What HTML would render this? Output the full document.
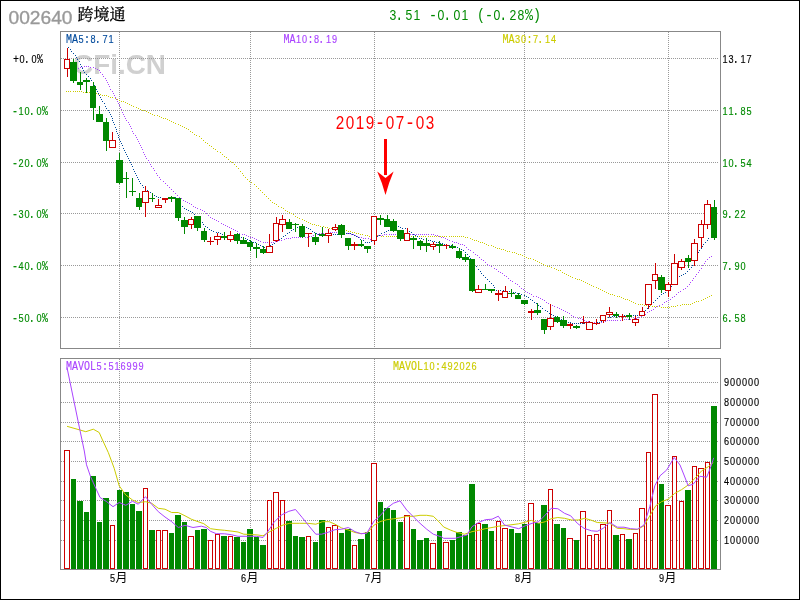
<!DOCTYPE html>
<html lang="zh-CN">
<head>
<meta charset="utf-8">
<title>002640 跨境通</title>
<style>
html,body{margin:0;padding:0;background:#fff;}
body{width:800px;height:600px;overflow:hidden;}
svg{display:block;}
</style>
</head>
<body>
<svg width="800" height="600" viewBox="0 0 800 600">
<rect x="0" y="0" width="800" height="600" fill="#ffffff"/>
<text x="73" y="74" font-family="'Liberation Sans', Arial, sans-serif" font-weight="bold" font-size="27px" fill="#d0d0d0" textLength="93" lengthAdjust="spacingAndGlyphs">CFi.CN</text>
<g shape-rendering="crispEdges" stroke="#999999" stroke-width="1" stroke-dasharray="1 1" fill="none">
<line x1="61" y1="58.5" x2="719" y2="58.5"/>
<line x1="61" y1="110.5" x2="719" y2="110.5"/>
<line x1="61" y1="162.5" x2="719" y2="162.5"/>
<line x1="61" y1="213.5" x2="719" y2="213.5"/>
<line x1="61" y1="265.5" x2="719" y2="265.5"/>
<line x1="61" y1="317.5" x2="719" y2="317.5"/>
<line x1="119.5" y1="32" x2="119.5" y2="348"/>
<line x1="119.5" y1="359" x2="119.5" y2="569"/>
<line x1="250.5" y1="32" x2="250.5" y2="348"/>
<line x1="250.5" y1="359" x2="250.5" y2="569"/>
<line x1="374.5" y1="32" x2="374.5" y2="348"/>
<line x1="374.5" y1="359" x2="374.5" y2="569"/>
<line x1="524.5" y1="32" x2="524.5" y2="348"/>
<line x1="524.5" y1="359" x2="524.5" y2="569"/>
<line x1="668.5" y1="32" x2="668.5" y2="348"/>
<line x1="668.5" y1="359" x2="668.5" y2="569"/>
<line x1="61" y1="382.5" x2="719" y2="382.5"/>
<line x1="61" y1="402.5" x2="719" y2="402.5"/>
<line x1="61" y1="422.5" x2="719" y2="422.5"/>
<line x1="61" y1="441.5" x2="719" y2="441.5"/>
<line x1="61" y1="461.5" x2="719" y2="461.5"/>
<line x1="61" y1="481.5" x2="719" y2="481.5"/>
<line x1="61" y1="500.5" x2="719" y2="500.5"/>
<line x1="61" y1="520.5" x2="719" y2="520.5"/>
<line x1="61" y1="540.5" x2="719" y2="540.5"/>
</g>
<g shape-rendering="crispEdges" fill="none" stroke="#888888" stroke-width="1">
<rect x="60.5" y="31.5" width="660" height="317"/>
<rect x="60.5" y="358.5" width="660" height="211"/>
</g>
<path d="M66 91.5h1M68 91.5h1M70 91.5h1M73 91.5h1M75 91.5h1M77 91.5h1M79 91.5h1M81 91.5h1M83 92.5h1M85 92.5h1M87 92.5h1M89 92.5h1M91 93.5h1M94 93.5h1M96 93.5h1M98 94.5h1M100 94.5h1M102 95.5h1M104 95.5h1M106 95.5h1M108 96.5h1M110 97.5h1M112 97.5h1M115 98.5h1M117 99.5h1M119 100.5h1M121 101.5h1M123 101.5h1M125 102.5h1M127 103.5h1M129 104.5h1M131 105.5h1M133 106.5h1M136 107.5h1M138 108.5h1M140 109.5h1M142 110.5h1M144 110.5h1M146 111.5h1M148 112.5h1M150 113.5h1M152 114.5h1M154 115.5h1M157 115.5h1M159 116.5h1M161 117.5h1M163 118.5h1M165 118.5h1M167 119.5h1M169 120.5h1M171 121.5h1M173 122.5h1M175 123.5h1M178 124.5h1M180 125.5h1M182 126.5h1M184 127.5h1M186 128.5h1M188 129.5h1M190 131.5h1M192 132.5h1M194 134.5h1M196 135.5h1M199 136.5h1M201 138.5h1M203 140.5h1M205 142.5h1M207 143.5h1M209 145.5h1M211 146.5h1M213 148.5h1M215 149.5h1M217 151.5h1M220 152.5h1M222 154.5h1M224 156.5h1M226 157.5h1M228 159.5h1M230 161.5h1M232 162.5h1M234 164.5h1M236 166.5h1M238 168.5h1M240 171.5h1M242 173.5h1M243 175.5h1M245 177.5h1M247 179.5h1M249 181.5h1M251 182.5h1M254 184.5h1M256 186.5h1M258 188.5h1M260 190.5h1M262 192.5h1M264 194.5h1M266 196.5h1M268 198.5h1M270 200.5h1M272 202.5h1M274 203.5h1M276 204.5h1M278 206.5h1M281 207.5h1M283 208.5h1M285 210.5h1M287 211.5h1M289 212.5h1M291 213.5h1M293 214.5h1M295 216.5h1M297 217.5h1M299 218.5h1M302 219.5h1M304 220.5h1M306 221.5h1M308 222.5h1M310 223.5h1M312 224.5h1M314 224.5h1M316 225.5h1M318 225.5h1M320 226.5h1M323 226.5h1M325 227.5h1M327 227.5h1M329 228.5h1M331 228.5h1M333 229.5h1M335 229.5h1M337 229.5h1M339 230.5h1M341 230.5h1M344 230.5h1M346 230.5h1M348 231.5h1M350 231.5h1M352 232.5h1M354 232.5h1M356 233.5h1M358 233.5h1M360 234.5h1M362 234.5h1M365 235.5h1M367 235.5h1M369 236.5h1M371 236.5h1M373 236.5h1M375 236.5h1M377 235.5h1M379 235.5h1M381 236.5h1M383 236.5h1M386 236.5h1M388 236.5h1M390 236.5h1M392 236.5h1M394 236.5h1M396 236.5h1M398 236.5h1M400 236.5h1M402 236.5h1M404 236.5h1M407 236.5h1M409 236.5h1M411 236.5h1M413 236.5h1M415 236.5h1M417 236.5h1M419 236.5h1M421 236.5h1M423 236.5h1M425 236.5h1M428 236.5h1M430 236.5h1M432 236.5h1M434 236.5h1M436 236.5h1M438 236.5h1M440 236.5h1M442 236.5h1M444 236.5h1M446 236.5h1M449 236.5h1M451 236.5h1M453 236.5h1M455 236.5h1M457 236.5h1M459 236.5h1M461 236.5h1M463 236.5h1M465 237.5h1M467 237.5h1M470 238.5h1M472 239.5h1M474 240.5h1M476 240.5h1M478 241.5h1M480 242.5h1M482 242.5h1M484 243.5h1M486 244.5h1M488 245.5h1M491 245.5h1M493 246.5h1M495 247.5h1M497 248.5h1M499 248.5h1M501 249.5h1M503 249.5h1M505 250.5h1M507 251.5h1M509 251.5h1M512 252.5h1M514 252.5h1M516 253.5h1M518 254.5h1M520 254.5h1M522 255.5h1M524 256.5h1M526 257.5h1M528 258.5h1M530 258.5h1M533 259.5h1M535 260.5h1M537 261.5h1M539 262.5h1M541 263.5h1M543 264.5h1M545 265.5h1M547 266.5h1M549 266.5h1M551 267.5h1M554 268.5h1M556 269.5h1M558 270.5h1M560 270.5h1M562 272.5h1M564 273.5h1M566 274.5h1M568 275.5h1M570 276.5h1M572 277.5h1M575 278.5h1M577 279.5h1M579 279.5h1M581 280.5h1M583 281.5h1M585 282.5h1M587 283.5h1M589 284.5h1M591 285.5h1M593 286.5h1M596 287.5h1M598 288.5h1M600 289.5h1M602 290.5h1M604 291.5h1M606 292.5h1M608 293.5h1M610 294.5h1M612 294.5h1M614 295.5h1M617 296.5h1M619 296.5h1M621 297.5h1M623 298.5h1M625 299.5h1M627 299.5h1M629 300.5h1M631 301.5h1M633 302.5h1M635 303.5h1M638 304.5h1M640 304.5h1M642 304.5h1M644 305.5h1M646 305.5h1M648 305.5h1M650 305.5h1M652 306.5h1M654 306.5h1M656 306.5h1M659 306.5h1M661 307.5h1M663 307.5h1M665 307.5h1M667 307.5h1M669 307.5h1M671 306.5h1M673 306.5h1M675 306.5h1M677 305.5h1M680 305.5h1M682 304.5h1M684 304.5h1M686 304.5h1M688 304.5h1M690 304.5h1M692 303.5h1M694 302.5h1M696 301.5h1M698 301.5h1M701 300.5h1M703 299.5h1M705 298.5h1M707 297.5h1M709 296.5h1M711 295.5h1" fill="none" stroke="#cccc00" stroke-width="1" shape-rendering="crispEdges"/>
<path d="M78 68.5h1M80 67.5h1M82 67.5h1M84 66.5h1M86 66.5h1M88 66.5h1M90 67.5h1M93 67.5h1M95 68.5h1M97 69.5h1M99 70.5h1M100 72.5h1M102 74.5h1M103 76.5h1M105 78.5h1M106 80.5h1M107 82.5h1M108 84.5h1M109 86.5h1M110 89.5h1M112 91.5h1M113 93.5h1M114 95.5h1M115 97.5h1M116 99.5h1M117 101.5h1M118 103.5h1M119 105.5h1M120 107.5h1M121 109.5h1M122 112.5h1M123 114.5h1M124 116.5h1M125 118.5h1M126 120.5h1M128 122.5h1M129 124.5h1M130 126.5h1M131 128.5h1M132 131.5h1M133 133.5h1M135 135.5h1M136 137.5h1M137 139.5h1M138 141.5h1M139 143.5h1M140 145.5h1M141 147.5h1M142 149.5h1M143 152.5h1M144 154.5h1M145 156.5h1M146 158.5h1M148 160.5h1M149 162.5h1M150 164.5h1M151 166.5h1M153 168.5h1M154 170.5h1M156 173.5h1M157 175.5h1M159 177.5h1M160 179.5h1M163 181.5h1M165 183.5h1M167 185.5h1M169 187.5h1M171 189.5h1M173 191.5h1M175 193.5h1M177 195.5h1M179 197.5h1M181 198.5h1M183 200.5h1M185 201.5h1M187 202.5h1M189 203.5h1M191 204.5h1M193 206.5h1M195 207.5h1M197 208.5h1M200 209.5h1M202 210.5h1M204 211.5h1M206 213.5h1M208 215.5h1M210 217.5h1M212 218.5h1M214 219.5h1M216 220.5h1M218 221.5h1M221 223.5h1M223 224.5h1M225 225.5h1M227 226.5h1M229 227.5h1M231 228.5h1M233 229.5h1M235 230.5h1M237 231.5h1M239 233.5h1M242 234.5h1M244 234.5h1M246 235.5h1M248 236.5h1M250 237.5h1M252 237.5h1M254 238.5h1M256 239.5h1M258 240.5h1M260 241.5h1M263 242.5h1M265 242.5h1M267 242.5h1M269 242.5h1M271 242.5h1M273 242.5h1M275 241.5h1M277 241.5h1M279 240.5h1M281 240.5h1M284 239.5h1M286 238.5h1M288 238.5h1M290 238.5h1M292 237.5h1M294 237.5h1M296 237.5h1M298 237.5h1M300 237.5h1M302 237.5h1M305 237.5h1M307 237.5h1M309 236.5h1M311 236.5h1M313 235.5h1M315 234.5h1M317 234.5h1M319 233.5h1M321 233.5h1M323 233.5h1M326 233.5h1M328 233.5h1M330 232.5h1M332 232.5h1M334 232.5h1M336 232.5h1M338 232.5h1M340 232.5h1M342 232.5h1M344 233.5h1M347 233.5h1M349 233.5h1M351 234.5h1M353 234.5h1M355 235.5h1M357 236.5h1M359 237.5h1M361 237.5h1M363 238.5h1M365 238.5h1M368 238.5h1M370 239.5h1M372 238.5h1M374 237.5h1M376 236.5h1M378 235.5h1M380 235.5h1M382 235.5h1M384 234.5h1M386 234.5h1M389 234.5h1M391 234.5h1M393 234.5h1M395 234.5h1M397 234.5h1M399 234.5h1M401 234.5h1M403 234.5h1M405 234.5h1M407 234.5h1M410 234.5h1M412 234.5h1M414 234.5h1M416 234.5h1M418 234.5h1M420 234.5h1M422 234.5h1M424 234.5h1M426 234.5h1M428 234.5h1M431 234.5h1M433 234.5h1M435 235.5h1M437 235.5h1M439 236.5h1M441 237.5h1M443 237.5h1M445 238.5h1M447 239.5h1M449 240.5h1M452 241.5h1M454 242.5h1M456 242.5h1M458 243.5h1M460 244.5h1M462 244.5h1M464 245.5h1M466 247.5h1M468 249.5h1M470 250.5h1M473 252.5h1M475 254.5h1M477 255.5h1M479 257.5h1M481 259.5h1M483 260.5h1M485 262.5h1M487 264.5h1M489 265.5h1M491 266.5h1M494 268.5h1M496 269.5h1M498 271.5h1M500 272.5h1M502 273.5h1M504 275.5h1M506 276.5h1M508 278.5h1M510 280.5h1M512 281.5h1M515 283.5h1M517 284.5h1M519 286.5h1M521 288.5h1M523 289.5h1M525 291.5h1M527 292.5h1M529 293.5h1M531 294.5h1M533 296.5h1M536 296.5h1M538 297.5h1M540 298.5h1M542 299.5h1M544 300.5h1M546 302.5h1M548 303.5h1M550 304.5h1M552 305.5h1M554 306.5h1M557 307.5h1M559 308.5h1M561 309.5h1M563 310.5h1M565 311.5h1M567 312.5h1M569 313.5h1M571 315.5h1M573 316.5h1M575 317.5h1M578 318.5h1M580 318.5h1M582 319.5h1M584 320.5h1M586 321.5h1M588 321.5h1M590 322.5h1M592 322.5h1M594 322.5h1M596 322.5h1M599 322.5h1M601 322.5h1M603 321.5h1M605 321.5h1M607 320.5h1M609 320.5h1M611 320.5h1M613 320.5h1M615 320.5h1M617 320.5h1M620 320.5h1M622 320.5h1M624 319.5h1M626 319.5h1M628 319.5h1M630 319.5h1M632 319.5h1M634 318.5h1M636 318.5h1M638 317.5h1M641 316.5h1M643 315.5h1M645 314.5h1M647 312.5h1M649 311.5h1M651 310.5h1M653 309.5h1M655 307.5h1M657 306.5h1M659 305.5h1M662 304.5h1M664 302.5h1M666 301.5h1M668 300.5h1M670 299.5h1M672 297.5h1M674 296.5h1M676 294.5h1M678 292.5h1M680 291.5h1M683 289.5h1M685 288.5h1M687 286.5h1M689 284.5h1M690 282.5h1M692 280.5h1M693 278.5h1M695 276.5h1M696 274.5h1M698 272.5h1M699 270.5h1M701 268.5h1M702 265.5h1M704 263.5h1M705 261.5h1M707 259.5h1M709 257.5h1M711 256.5h1" fill="none" stroke="#aa44ff" stroke-width="1" shape-rendering="crispEdges"/>
<path d="M68 47.5h1M70 49.5h1M71 51.5h1M73 53.5h1M75 55.5h1M76 57.5h1M77 59.5h1M79 61.5h1M80 64.5h1M81 66.5h1M82 68.5h1M83 70.5h1M84 72.5h1M86 74.5h1M88 76.5h1M90 78.5h1M91 80.5h1M93 82.5h1M94 85.5h1M95 87.5h1M96 89.5h1M97 91.5h1M98 93.5h1M99 95.5h1M100 97.5h1M101 99.5h1M102 101.5h1M104 103.5h1M105 106.5h1M106 108.5h1M108 110.5h1M109 112.5h1M110 114.5h1M111 116.5h1M112 118.5h1M112 120.5h1M113 122.5h1M114 124.5h1M115 127.5h1M116 129.5h1M116 131.5h1M117 133.5h1M118 135.5h1M118 137.5h1M119 139.5h1M120 141.5h1M121 143.5h1M122 145.5h1M123 148.5h1M124 150.5h1M125 152.5h1M126 154.5h1M127 156.5h1M128 158.5h1M129 160.5h1M130 162.5h1M131 164.5h1M132 166.5h1M133 169.5h1M134 171.5h1M135 173.5h1M136 175.5h1M137 177.5h1M138 179.5h1M139 181.5h1M140 183.5h1M142 185.5h1M143 187.5h1M145 189.5h1M147 190.5h1M150 192.5h1M152 193.5h1M154 195.5h1M156 196.5h1M158 197.5h1M160 197.5h1M162 198.5h1M164 198.5h1M166 198.5h1M168 198.5h1M171 198.5h1M173 197.5h1M175 197.5h1M176 199.5h1M178 201.5h1M180 204.5h1M182 206.5h1M184 208.5h1M186 209.5h1M188 210.5h1M190 211.5h1M192 212.5h1M194 214.5h1M196 216.5h1M198 217.5h1M200 220.5h1M202 222.5h1M203 224.5h1M205 226.5h1M207 227.5h1M209 229.5h1M211 230.5h1M213 231.5h1M216 232.5h1M218 232.5h1M220 233.5h1M222 234.5h1M224 235.5h1M226 236.5h1M228 236.5h1M230 236.5h1M232 236.5h1M234 236.5h1M237 237.5h1M239 237.5h1M241 237.5h1M243 237.5h1M245 238.5h1M247 239.5h1M249 240.5h1M251 241.5h1M253 242.5h1M255 242.5h1M258 244.5h1M260 245.5h1M262 246.5h1M264 247.5h1M266 247.5h1M268 246.5h1M270 245.5h1M272 244.5h1M274 243.5h1M276 241.5h1M279 239.5h1M281 238.5h1M283 236.5h1M285 235.5h1M287 233.5h1M289 232.5h1M291 230.5h1M293 229.5h1M295 228.5h1M297 227.5h1M300 227.5h1M302 226.5h1M304 226.5h1M306 227.5h1M308 228.5h1M310 229.5h1M312 231.5h1M314 232.5h1M316 233.5h1M318 234.5h1M321 234.5h1M323 234.5h1M325 234.5h1M327 234.5h1M329 234.5h1M331 234.5h1M333 234.5h1M335 234.5h1M337 234.5h1M339 234.5h1M342 233.5h1M344 233.5h1M346 233.5h1M348 233.5h1M350 233.5h1M352 234.5h1M354 235.5h1M356 236.5h1M358 237.5h1M360 239.5h1M363 240.5h1M365 242.5h1M367 242.5h1M369 242.5h1M371 241.5h1M373 240.5h1M375 238.5h1M377 236.5h1M379 235.5h1M381 233.5h1M384 232.5h1M386 231.5h1M388 230.5h1M390 229.5h1M392 228.5h1M394 228.5h1M396 227.5h1M398 226.5h1M400 227.5h1M402 228.5h1M405 228.5h1M407 230.5h1M409 231.5h1M411 232.5h1M413 234.5h1M415 235.5h1M417 236.5h1M419 238.5h1M421 238.5h1M423 239.5h1M426 239.5h1M428 240.5h1M430 240.5h1M432 241.5h1M434 241.5h1M436 242.5h1M438 242.5h1M440 243.5h1M442 243.5h1M444 244.5h1M447 245.5h1M449 245.5h1M451 245.5h1M453 246.5h1M455 246.5h1M457 247.5h1M459 248.5h1M461 249.5h1M463 250.5h1M465 252.5h1M467 254.5h1M469 256.5h1M470 258.5h1M472 260.5h1M473 262.5h1M474 264.5h1M476 266.5h1M478 269.5h1M480 271.5h1M481 273.5h1M483 275.5h1M485 277.5h1M487 279.5h1M489 281.5h1M491 283.5h1M493 285.5h1M494 287.5h1M496 290.5h1M498 290.5h1M500 290.5h1M503 290.5h1M505 291.5h1M507 291.5h1M509 291.5h1M511 292.5h1M513 292.5h1M515 292.5h1M517 293.5h1M519 293.5h1M521 294.5h1M524 295.5h1M526 296.5h1M528 297.5h1M530 299.5h1M532 300.5h1M534 302.5h1M536 303.5h1M538 305.5h1M540 306.5h1M542 308.5h1M545 310.5h1M547 311.5h1M549 313.5h1M551 314.5h1M553 315.5h1M555 316.5h1M557 317.5h1M559 318.5h1M561 319.5h1M563 320.5h1M566 321.5h1M568 322.5h1M570 322.5h1M572 323.5h1M574 323.5h1M576 323.5h1M578 323.5h1M580 323.5h1M582 323.5h1M584 323.5h1M587 323.5h1M589 323.5h1M591 323.5h1M593 323.5h1M595 323.5h1M597 322.5h1M599 322.5h1M601 321.5h1M603 319.5h1M605 318.5h1M608 317.5h1M610 317.5h1M612 316.5h1M614 316.5h1M616 316.5h1M618 316.5h1M620 316.5h1M622 315.5h1M624 315.5h1M626 315.5h1M629 315.5h1M631 315.5h1M633 315.5h1M635 315.5h1M637 315.5h1M639 314.5h1M641 313.5h1M643 312.5h1M645 310.5h1M647 308.5h1M649 306.5h1M651 304.5h1M653 302.5h1M655 300.5h1M657 298.5h1M659 296.5h1M661 294.5h1M663 293.5h1M665 292.5h1M667 290.5h1M669 288.5h1M671 286.5h1M672 284.5h1M674 282.5h1M675 279.5h1M677 277.5h1M679 276.5h1M681 275.5h1M683 274.5h1M685 273.5h1M687 271.5h1M689 269.5h1M691 267.5h1M692 265.5h1M694 263.5h1M694 261.5h1M695 259.5h1M696 257.5h1M697 254.5h1M698 252.5h1M699 250.5h1M701 248.5h1M702 246.5h1M703 244.5h1M705 242.5h1M707 240.5h1M708 238.5h1" fill="none" stroke="#004a9c" stroke-width="1" shape-rendering="crispEdges"/>
<g shape-rendering="crispEdges">
<rect x="67" y="48" width="1" height="11" fill="#cc0000"/>
<rect x="67" y="69" width="1" height="8" fill="#cc0000"/>
<rect x="64.5" y="59.5" width="5" height="9" fill="#ffffff" stroke="#cc0000" stroke-width="1"/>
<rect x="73" y="59" width="1" height="24" fill="#008800"/>
<rect x="70" y="62" width="7" height="19" fill="#008800"/>
<rect x="80" y="72" width="1" height="18" fill="#008800"/>
<rect x="77" y="82" width="6" height="3" fill="#008800"/>
<rect x="86" y="78" width="1" height="15" fill="#008800"/>
<rect x="83" y="80" width="7" height="2" fill="#008800"/>
<rect x="93" y="82" width="1" height="38" fill="#008800"/>
<rect x="90" y="86" width="6" height="22" fill="#008800"/>
<rect x="99" y="106" width="1" height="16" fill="#008800"/>
<rect x="96" y="114" width="7" height="8" fill="#008800"/>
<rect x="106" y="118" width="1" height="33" fill="#008800"/>
<rect x="103" y="122" width="6" height="19" fill="#008800"/>
<rect x="112" y="132" width="1" height="8" fill="#cc0000"/>
<rect x="109.5" y="140.5" width="6" height="7" fill="#ffffff" stroke="#cc0000" stroke-width="1"/>
<rect x="119" y="153" width="1" height="31" fill="#008800"/>
<rect x="116" y="160" width="7" height="23" fill="#008800"/>
<rect x="126" y="172" width="1" height="26" fill="#008800"/>
<rect x="123" y="178" width="6" height="1" fill="#008800"/>
<rect x="132" y="178" width="1" height="18" fill="#008800"/>
<rect x="129" y="191" width="7" height="1" fill="#008800"/>
<rect x="139" y="193" width="1" height="17" fill="#008800"/>
<rect x="136" y="198" width="6" height="9" fill="#008800"/>
<rect x="145" y="186" width="1" height="5" fill="#cc0000"/>
<rect x="145" y="203" width="1" height="14" fill="#cc0000"/>
<rect x="142.5" y="191.5" width="6" height="11" fill="#ffffff" stroke="#cc0000" stroke-width="1"/>
<rect x="152" y="193" width="1" height="9" fill="#008800"/>
<rect x="149" y="198" width="6" height="1" fill="#008800"/>
<rect x="158" y="199" width="1" height="6" fill="#cc0000"/>
<rect x="155.5" y="205.5" width="6" height="2" fill="#ffffff" stroke="#cc0000" stroke-width="1"/>
<rect x="165" y="200" width="1" height="3" fill="#cc0000"/>
<rect x="162" y="198" width="6" height="2" fill="#cc0000"/>
<rect x="171" y="196" width="1" height="6" fill="#008800"/>
<rect x="168" y="197" width="7" height="2" fill="#008800"/>
<rect x="178" y="198" width="1" height="23" fill="#008800"/>
<rect x="175" y="198" width="6" height="20" fill="#008800"/>
<rect x="184" y="217" width="1" height="17" fill="#008800"/>
<rect x="181" y="220" width="7" height="7" fill="#008800"/>
<rect x="191" y="217" width="1" height="2" fill="#cc0000"/>
<rect x="191" y="225" width="1" height="4" fill="#cc0000"/>
<rect x="188.5" y="219.5" width="5" height="5" fill="#ffffff" stroke="#cc0000" stroke-width="1"/>
<rect x="197" y="216" width="1" height="15" fill="#008800"/>
<rect x="194" y="216" width="7" height="12" fill="#008800"/>
<rect x="204" y="228" width="1" height="14" fill="#008800"/>
<rect x="201" y="231" width="6" height="9" fill="#008800"/>
<rect x="210" y="237" width="1" height="4" fill="#cc0000"/>
<rect x="210" y="242" width="1" height="3" fill="#cc0000"/>
<rect x="207" y="241" width="7" height="1" fill="#cc0000"/>
<rect x="217" y="233" width="1" height="3" fill="#cc0000"/>
<rect x="217" y="240" width="1" height="5" fill="#cc0000"/>
<rect x="214.5" y="236.5" width="6" height="3" fill="#ffffff" stroke="#cc0000" stroke-width="1"/>
<rect x="224" y="232" width="1" height="8" fill="#008800"/>
<rect x="221" y="236" width="6" height="2" fill="#008800"/>
<rect x="230" y="231" width="1" height="4" fill="#cc0000"/>
<rect x="230" y="240" width="1" height="2" fill="#cc0000"/>
<rect x="227.5" y="235.5" width="6" height="4" fill="#ffffff" stroke="#cc0000" stroke-width="1"/>
<rect x="237" y="233" width="1" height="11" fill="#008800"/>
<rect x="234" y="234" width="6" height="7" fill="#008800"/>
<rect x="243" y="237" width="1" height="7" fill="#008800"/>
<rect x="240" y="240" width="7" height="4" fill="#008800"/>
<rect x="250" y="240" width="1" height="11" fill="#008800"/>
<rect x="247" y="242" width="6" height="5" fill="#008800"/>
<rect x="256" y="243" width="1" height="15" fill="#008800"/>
<rect x="253" y="247" width="7" height="2" fill="#008800"/>
<rect x="263" y="246" width="1" height="8" fill="#008800"/>
<rect x="260" y="249" width="6" height="4" fill="#008800"/>
<rect x="269" y="234" width="1" height="12" fill="#cc0000"/>
<rect x="266.5" y="246.5" width="6" height="6" fill="#ffffff" stroke="#cc0000" stroke-width="1"/>
<rect x="276" y="217" width="1" height="6" fill="#cc0000"/>
<rect x="276" y="241" width="1" height="1" fill="#cc0000"/>
<rect x="273.5" y="223.5" width="5" height="17" fill="#ffffff" stroke="#cc0000" stroke-width="1"/>
<rect x="282" y="215" width="1" height="4" fill="#cc0000"/>
<rect x="282" y="225" width="1" height="7" fill="#cc0000"/>
<rect x="279.5" y="219.5" width="6" height="5" fill="#ffffff" stroke="#cc0000" stroke-width="1"/>
<rect x="289" y="219" width="1" height="10" fill="#008800"/>
<rect x="286" y="222" width="6" height="7" fill="#008800"/>
<rect x="295" y="223" width="1" height="9" fill="#008800"/>
<rect x="292" y="224" width="7" height="1" fill="#008800"/>
<rect x="302" y="224" width="1" height="14" fill="#008800"/>
<rect x="299" y="226" width="6" height="11" fill="#008800"/>
<rect x="308" y="234" width="1" height="13" fill="#cc0000"/>
<rect x="305" y="233" width="7" height="1" fill="#cc0000"/>
<rect x="315" y="233" width="1" height="12" fill="#008800"/>
<rect x="312" y="237" width="7" height="5" fill="#008800"/>
<rect x="322" y="227" width="1" height="10" fill="#008800"/>
<rect x="319" y="234" width="6" height="2" fill="#008800"/>
<rect x="328" y="229" width="1" height="4" fill="#cc0000"/>
<rect x="328" y="236" width="1" height="7" fill="#cc0000"/>
<rect x="325.5" y="233.5" width="6" height="2" fill="#ffffff" stroke="#cc0000" stroke-width="1"/>
<rect x="335" y="224" width="1" height="3" fill="#cc0000"/>
<rect x="335" y="230" width="1" height="1" fill="#cc0000"/>
<rect x="332.5" y="227.5" width="5" height="2" fill="#ffffff" stroke="#cc0000" stroke-width="1"/>
<rect x="341" y="224" width="1" height="14" fill="#008800"/>
<rect x="338" y="225" width="7" height="10" fill="#008800"/>
<rect x="348" y="238" width="1" height="12" fill="#008800"/>
<rect x="345" y="238" width="6" height="8" fill="#008800"/>
<rect x="354" y="242" width="1" height="2" fill="#cc0000"/>
<rect x="354" y="246" width="1" height="4" fill="#cc0000"/>
<rect x="351" y="244" width="7" height="2" fill="#cc0000"/>
<rect x="361" y="240" width="1" height="7" fill="#008800"/>
<rect x="358" y="244" width="6" height="2" fill="#008800"/>
<rect x="367" y="246" width="1" height="7" fill="#008800"/>
<rect x="364" y="246" width="7" height="3" fill="#008800"/>
<rect x="374" y="241" width="1" height="4" fill="#cc0000"/>
<rect x="371.5" y="216.5" width="5" height="24" fill="#ffffff" stroke="#cc0000" stroke-width="1"/>
<rect x="380" y="215" width="1" height="10" fill="#008800"/>
<rect x="377" y="218" width="7" height="2" fill="#008800"/>
<rect x="387" y="215" width="1" height="12" fill="#008800"/>
<rect x="384" y="219" width="6" height="8" fill="#008800"/>
<rect x="393" y="219" width="1" height="13" fill="#008800"/>
<rect x="390" y="221" width="7" height="10" fill="#008800"/>
<rect x="400" y="230" width="1" height="11" fill="#008800"/>
<rect x="397" y="230" width="7" height="9" fill="#008800"/>
<rect x="407" y="228" width="1" height="5" fill="#cc0000"/>
<rect x="404.5" y="233.5" width="5" height="7" fill="#ffffff" stroke="#cc0000" stroke-width="1"/>
<rect x="413" y="236" width="1" height="13" fill="#008800"/>
<rect x="410" y="238" width="7" height="2" fill="#008800"/>
<rect x="420" y="240" width="1" height="10" fill="#008800"/>
<rect x="417" y="241" width="6" height="5" fill="#008800"/>
<rect x="426" y="238" width="1" height="14" fill="#008800"/>
<rect x="423" y="243" width="7" height="3" fill="#008800"/>
<rect x="433" y="242" width="1" height="2" fill="#cc0000"/>
<rect x="433" y="247" width="1" height="3" fill="#cc0000"/>
<rect x="430.5" y="244.5" width="5" height="2" fill="#ffffff" stroke="#cc0000" stroke-width="1"/>
<rect x="439" y="241" width="1" height="12" fill="#008800"/>
<rect x="436" y="244" width="7" height="2" fill="#008800"/>
<rect x="446" y="244" width="1" height="1" fill="#cc0000"/>
<rect x="446" y="246" width="1" height="3" fill="#cc0000"/>
<rect x="443" y="245" width="6" height="1" fill="#cc0000"/>
<rect x="452" y="244" width="1" height="5" fill="#008800"/>
<rect x="449" y="246" width="7" height="2" fill="#008800"/>
<rect x="459" y="248" width="1" height="11" fill="#008800"/>
<rect x="456" y="251" width="6" height="7" fill="#008800"/>
<rect x="465" y="254" width="1" height="8" fill="#008800"/>
<rect x="462" y="257" width="7" height="3" fill="#008800"/>
<rect x="472" y="259" width="1" height="33" fill="#008800"/>
<rect x="469" y="259" width="6" height="32" fill="#008800"/>
<rect x="478" y="285" width="1" height="4" fill="#cc0000"/>
<rect x="475.5" y="289.5" width="6" height="3" fill="#ffffff" stroke="#cc0000" stroke-width="1"/>
<rect x="485" y="284" width="1" height="6" fill="#008800"/>
<rect x="482" y="289" width="6" height="1" fill="#008800"/>
<rect x="491" y="289" width="1" height="4" fill="#008800"/>
<rect x="488" y="289" width="7" height="2" fill="#008800"/>
<rect x="498" y="290" width="1" height="3" fill="#cc0000"/>
<rect x="498" y="295" width="1" height="6" fill="#cc0000"/>
<rect x="495" y="293" width="7" height="2" fill="#cc0000"/>
<rect x="505" y="286" width="1" height="5" fill="#cc0000"/>
<rect x="502.5" y="291.5" width="5" height="6" fill="#ffffff" stroke="#cc0000" stroke-width="1"/>
<rect x="511" y="289" width="1" height="8" fill="#008800"/>
<rect x="508" y="293" width="7" height="1" fill="#008800"/>
<rect x="518" y="293" width="1" height="6" fill="#008800"/>
<rect x="515" y="295" width="6" height="4" fill="#008800"/>
<rect x="524" y="300" width="1" height="5" fill="#008800"/>
<rect x="521" y="300" width="7" height="4" fill="#008800"/>
<rect x="531" y="309" width="1" height="2" fill="#cc0000"/>
<rect x="531" y="313" width="1" height="7" fill="#cc0000"/>
<rect x="528" y="311" width="6" height="2" fill="#cc0000"/>
<rect x="537" y="303" width="1" height="12" fill="#008800"/>
<rect x="534" y="310" width="7" height="3" fill="#008800"/>
<rect x="544" y="319" width="1" height="15" fill="#008800"/>
<rect x="541" y="319" width="6" height="11" fill="#008800"/>
<rect x="550" y="304" width="1" height="14" fill="#cc0000"/>
<rect x="550" y="327" width="1" height="3" fill="#cc0000"/>
<rect x="547.5" y="318.5" width="6" height="8" fill="#ffffff" stroke="#cc0000" stroke-width="1"/>
<rect x="557" y="316" width="1" height="7" fill="#008800"/>
<rect x="554" y="317" width="6" height="5" fill="#008800"/>
<rect x="563" y="316" width="1" height="12" fill="#008800"/>
<rect x="560" y="320" width="7" height="6" fill="#008800"/>
<rect x="570" y="323" width="1" height="1" fill="#cc0000"/>
<rect x="570" y="326" width="1" height="3" fill="#cc0000"/>
<rect x="567" y="324" width="6" height="2" fill="#cc0000"/>
<rect x="576" y="325" width="1" height="4" fill="#008800"/>
<rect x="573" y="326" width="7" height="2" fill="#008800"/>
<rect x="583" y="316" width="1" height="6" fill="#cc0000"/>
<rect x="583" y="323" width="1" height="1" fill="#cc0000"/>
<rect x="580" y="322" width="6" height="1" fill="#cc0000"/>
<rect x="589" y="321" width="1" height="1" fill="#cc0000"/>
<rect x="586.5" y="322.5" width="6" height="7" fill="#ffffff" stroke="#cc0000" stroke-width="1"/>
<rect x="596" y="319" width="1" height="4" fill="#cc0000"/>
<rect x="596" y="324" width="1" height="1" fill="#cc0000"/>
<rect x="593" y="323" width="7" height="1" fill="#cc0000"/>
<rect x="603" y="321" width="1" height="2" fill="#cc0000"/>
<rect x="600.5" y="315.5" width="5" height="5" fill="#ffffff" stroke="#cc0000" stroke-width="1"/>
<rect x="609" y="307" width="1" height="5" fill="#cc0000"/>
<rect x="609" y="315" width="1" height="2" fill="#cc0000"/>
<rect x="606.5" y="312.5" width="6" height="2" fill="#ffffff" stroke="#cc0000" stroke-width="1"/>
<rect x="616" y="312" width="1" height="6" fill="#008800"/>
<rect x="613" y="314" width="6" height="2" fill="#008800"/>
<rect x="622" y="314" width="1" height="2" fill="#cc0000"/>
<rect x="622" y="317" width="1" height="4" fill="#cc0000"/>
<rect x="619" y="316" width="7" height="1" fill="#cc0000"/>
<rect x="629" y="313" width="1" height="7" fill="#008800"/>
<rect x="626" y="315" width="6" height="2" fill="#008800"/>
<rect x="635" y="316" width="1" height="3" fill="#cc0000"/>
<rect x="635" y="323" width="1" height="3" fill="#cc0000"/>
<rect x="632.5" y="319.5" width="6" height="3" fill="#ffffff" stroke="#cc0000" stroke-width="1"/>
<rect x="642" y="307" width="1" height="4" fill="#cc0000"/>
<rect x="639.5" y="311.5" width="5" height="4" fill="#ffffff" stroke="#cc0000" stroke-width="1"/>
<rect x="648" y="305" width="1" height="4" fill="#cc0000"/>
<rect x="645.5" y="284.5" width="6" height="20" fill="#ffffff" stroke="#cc0000" stroke-width="1"/>
<rect x="655" y="263" width="1" height="11" fill="#cc0000"/>
<rect x="655" y="281" width="1" height="8" fill="#cc0000"/>
<rect x="652.5" y="274.5" width="5" height="6" fill="#ffffff" stroke="#cc0000" stroke-width="1"/>
<rect x="661" y="275" width="1" height="18" fill="#008800"/>
<rect x="658" y="277" width="7" height="13" fill="#008800"/>
<rect x="668" y="282" width="1" height="2" fill="#cc0000"/>
<rect x="668" y="291" width="1" height="6" fill="#cc0000"/>
<rect x="665.5" y="284.5" width="5" height="6" fill="#ffffff" stroke="#cc0000" stroke-width="1"/>
<rect x="674" y="254" width="1" height="9" fill="#cc0000"/>
<rect x="671.5" y="263.5" width="6" height="21" fill="#ffffff" stroke="#cc0000" stroke-width="1"/>
<rect x="681" y="259" width="1" height="2" fill="#cc0000"/>
<rect x="681" y="268" width="1" height="2" fill="#cc0000"/>
<rect x="678.5" y="261.5" width="6" height="6" fill="#ffffff" stroke="#cc0000" stroke-width="1"/>
<rect x="688" y="255" width="1" height="13" fill="#008800"/>
<rect x="685" y="258" width="6" height="4" fill="#008800"/>
<rect x="694" y="239" width="1" height="4" fill="#cc0000"/>
<rect x="694" y="261" width="1" height="5" fill="#cc0000"/>
<rect x="691.5" y="243.5" width="6" height="17" fill="#ffffff" stroke="#cc0000" stroke-width="1"/>
<rect x="701" y="220" width="1" height="4" fill="#cc0000"/>
<rect x="701" y="238" width="1" height="10" fill="#cc0000"/>
<rect x="698.5" y="224.5" width="5" height="13" fill="#ffffff" stroke="#cc0000" stroke-width="1"/>
<rect x="707" y="200" width="1" height="4" fill="#cc0000"/>
<rect x="707" y="225" width="1" height="4" fill="#cc0000"/>
<rect x="704.5" y="204.5" width="6" height="20" fill="#ffffff" stroke="#cc0000" stroke-width="1"/>
<rect x="714" y="200" width="1" height="40" fill="#008800"/>
<rect x="711" y="207" width="6" height="31" fill="#008800"/>
</g>
<g shape-rendering="crispEdges">
<rect x="64.5" y="450.5" width="5" height="118" fill="#ffffff" stroke="#cc0000" stroke-width="1"/>
<rect x="71" y="479" width="5" height="90" fill="#008800"/>
<rect x="77" y="501" width="6" height="68" fill="#008800"/>
<rect x="84" y="512" width="5" height="57" fill="#008800"/>
<rect x="90" y="476" width="6" height="93" fill="#008800"/>
<rect x="97" y="522" width="5" height="47" fill="#008800"/>
<rect x="103" y="498" width="6" height="71" fill="#008800"/>
<rect x="110.5" y="525.5" width="4" height="43" fill="#ffffff" stroke="#cc0000" stroke-width="1"/>
<rect x="117" y="490" width="5" height="79" fill="#008800"/>
<rect x="123" y="492" width="6" height="77" fill="#008800"/>
<rect x="130" y="504" width="5" height="65" fill="#008800"/>
<rect x="136" y="511" width="6" height="58" fill="#008800"/>
<rect x="143.5" y="488.5" width="4" height="80" fill="#ffffff" stroke="#cc0000" stroke-width="1"/>
<rect x="149" y="530" width="6" height="39" fill="#008800"/>
<rect x="156.5" y="530.5" width="4" height="38" fill="#ffffff" stroke="#cc0000" stroke-width="1"/>
<rect x="162.5" y="530.5" width="5" height="38" fill="#ffffff" stroke="#cc0000" stroke-width="1"/>
<rect x="169" y="533" width="5" height="36" fill="#008800"/>
<rect x="175" y="515" width="6" height="54" fill="#008800"/>
<rect x="182" y="522" width="5" height="47" fill="#008800"/>
<rect x="188.5" y="536.5" width="5" height="32" fill="#ffffff" stroke="#cc0000" stroke-width="1"/>
<rect x="195" y="530" width="5" height="39" fill="#008800"/>
<rect x="201" y="529" width="6" height="40" fill="#008800"/>
<rect x="208.5" y="540.5" width="4" height="28" fill="#ffffff" stroke="#cc0000" stroke-width="1"/>
<rect x="215.5" y="534.5" width="4" height="34" fill="#ffffff" stroke="#cc0000" stroke-width="1"/>
<rect x="221" y="536" width="6" height="33" fill="#008800"/>
<rect x="228.5" y="536.5" width="4" height="32" fill="#ffffff" stroke="#cc0000" stroke-width="1"/>
<rect x="234" y="537" width="6" height="32" fill="#008800"/>
<rect x="241" y="542" width="5" height="27" fill="#008800"/>
<rect x="247" y="529" width="6" height="40" fill="#008800"/>
<rect x="254" y="537" width="5" height="32" fill="#008800"/>
<rect x="260" y="545" width="6" height="24" fill="#008800"/>
<rect x="267.5" y="500.5" width="4" height="68" fill="#ffffff" stroke="#cc0000" stroke-width="1"/>
<rect x="273.5" y="492.5" width="5" height="76" fill="#ffffff" stroke="#cc0000" stroke-width="1"/>
<rect x="280.5" y="500.5" width="4" height="68" fill="#ffffff" stroke="#cc0000" stroke-width="1"/>
<rect x="286" y="521" width="6" height="48" fill="#008800"/>
<rect x="293" y="536" width="5" height="33" fill="#008800"/>
<rect x="299" y="537" width="6" height="32" fill="#008800"/>
<rect x="306.5" y="536.5" width="4" height="32" fill="#ffffff" stroke="#cc0000" stroke-width="1"/>
<rect x="313" y="542" width="5" height="27" fill="#008800"/>
<rect x="319" y="520" width="6" height="49" fill="#008800"/>
<rect x="326.5" y="527.5" width="4" height="41" fill="#ffffff" stroke="#cc0000" stroke-width="1"/>
<rect x="332.5" y="525.5" width="5" height="43" fill="#ffffff" stroke="#cc0000" stroke-width="1"/>
<rect x="339" y="533" width="5" height="36" fill="#008800"/>
<rect x="345" y="529" width="6" height="40" fill="#008800"/>
<rect x="352.5" y="545.5" width="4" height="23" fill="#ffffff" stroke="#cc0000" stroke-width="1"/>
<rect x="358" y="539" width="6" height="30" fill="#008800"/>
<rect x="365" y="532" width="5" height="37" fill="#008800"/>
<rect x="371.5" y="463.5" width="5" height="105" fill="#ffffff" stroke="#cc0000" stroke-width="1"/>
<rect x="378" y="502" width="5" height="67" fill="#008800"/>
<rect x="384" y="508" width="6" height="61" fill="#008800"/>
<rect x="391" y="510" width="5" height="59" fill="#008800"/>
<rect x="398" y="522" width="5" height="47" fill="#008800"/>
<rect x="404.5" y="515.5" width="5" height="53" fill="#ffffff" stroke="#cc0000" stroke-width="1"/>
<rect x="411" y="529" width="5" height="40" fill="#008800"/>
<rect x="417" y="540" width="6" height="29" fill="#008800"/>
<rect x="424" y="538" width="5" height="31" fill="#008800"/>
<rect x="430.5" y="543.5" width="5" height="25" fill="#ffffff" stroke="#cc0000" stroke-width="1"/>
<rect x="437" y="531" width="5" height="38" fill="#008800"/>
<rect x="443.5" y="542.5" width="5" height="26" fill="#ffffff" stroke="#cc0000" stroke-width="1"/>
<rect x="450" y="540" width="5" height="29" fill="#008800"/>
<rect x="456" y="532" width="6" height="37" fill="#008800"/>
<rect x="463" y="535" width="5" height="34" fill="#008800"/>
<rect x="469" y="484" width="6" height="85" fill="#008800"/>
<rect x="476.5" y="523.5" width="4" height="45" fill="#ffffff" stroke="#cc0000" stroke-width="1"/>
<rect x="482" y="524" width="6" height="45" fill="#008800"/>
<rect x="489" y="531" width="5" height="38" fill="#008800"/>
<rect x="496.5" y="521.5" width="4" height="47" fill="#ffffff" stroke="#cc0000" stroke-width="1"/>
<rect x="502.5" y="528.5" width="5" height="40" fill="#ffffff" stroke="#cc0000" stroke-width="1"/>
<rect x="509" y="529" width="5" height="40" fill="#008800"/>
<rect x="515" y="533" width="6" height="36" fill="#008800"/>
<rect x="522" y="524" width="5" height="45" fill="#008800"/>
<rect x="528.5" y="503.5" width="5" height="65" fill="#ffffff" stroke="#cc0000" stroke-width="1"/>
<rect x="535" y="523" width="5" height="46" fill="#008800"/>
<rect x="541" y="505" width="6" height="64" fill="#008800"/>
<rect x="548.5" y="489.5" width="4" height="79" fill="#ffffff" stroke="#cc0000" stroke-width="1"/>
<rect x="554" y="524" width="6" height="45" fill="#008800"/>
<rect x="561" y="528" width="5" height="41" fill="#008800"/>
<rect x="567.5" y="538.5" width="5" height="30" fill="#ffffff" stroke="#cc0000" stroke-width="1"/>
<rect x="574" y="540" width="5" height="29" fill="#008800"/>
<rect x="580.5" y="511.5" width="5" height="57" fill="#ffffff" stroke="#cc0000" stroke-width="1"/>
<rect x="587.5" y="535.5" width="4" height="33" fill="#ffffff" stroke="#cc0000" stroke-width="1"/>
<rect x="594.5" y="534.5" width="4" height="34" fill="#ffffff" stroke="#cc0000" stroke-width="1"/>
<rect x="600.5" y="524.5" width="5" height="44" fill="#ffffff" stroke="#cc0000" stroke-width="1"/>
<rect x="607.5" y="510.5" width="4" height="58" fill="#ffffff" stroke="#cc0000" stroke-width="1"/>
<rect x="613" y="535" width="6" height="34" fill="#008800"/>
<rect x="620.5" y="534.5" width="4" height="34" fill="#ffffff" stroke="#cc0000" stroke-width="1"/>
<rect x="626" y="539" width="6" height="30" fill="#008800"/>
<rect x="633.5" y="533.5" width="4" height="35" fill="#ffffff" stroke="#cc0000" stroke-width="1"/>
<rect x="639.5" y="508.5" width="5" height="60" fill="#ffffff" stroke="#cc0000" stroke-width="1"/>
<rect x="646.5" y="452.5" width="4" height="116" fill="#ffffff" stroke="#cc0000" stroke-width="1"/>
<rect x="652.5" y="394.5" width="5" height="174" fill="#ffffff" stroke="#cc0000" stroke-width="1"/>
<rect x="659" y="484" width="5" height="85" fill="#008800"/>
<rect x="665.5" y="505.5" width="5" height="63" fill="#ffffff" stroke="#cc0000" stroke-width="1"/>
<rect x="672.5" y="456.5" width="4" height="112" fill="#ffffff" stroke="#cc0000" stroke-width="1"/>
<rect x="679.5" y="501.5" width="4" height="67" fill="#ffffff" stroke="#cc0000" stroke-width="1"/>
<rect x="685" y="490" width="6" height="79" fill="#008800"/>
<rect x="692.5" y="466.5" width="4" height="102" fill="#ffffff" stroke="#cc0000" stroke-width="1"/>
<rect x="698.5" y="468.5" width="5" height="100" fill="#ffffff" stroke="#cc0000" stroke-width="1"/>
<rect x="705.5" y="462.5" width="4" height="106" fill="#ffffff" stroke="#cc0000" stroke-width="1"/>
<rect x="711" y="406" width="6" height="163" fill="#008800"/>
</g>
<polyline points="67.0,426.3 80.0,430.0 85.8,431.7 93.3,429.2 99.2,432.5 102.5,440.0 108.3,452.5 114.2,468.3 119.2,485.8 125.8,495.0 132.5,500.0 138.3,502.5 145.8,501.7 151.7,503.3 158.3,508.3 165.0,509.2 171.7,512.5 178.3,512.5 185.0,515.8 191.3,519.2 198.0,521.7 203.8,523.7 210.5,528.7 218.0,529.7 224.7,530.3 233.0,531.3 238.0,532.0 243.8,534.2 251.3,534.5 258.0,535.0 263.0,535.8 269.7,531.7 276.3,528.3 283.0,525.0 289.7,523.3 299.7,523.3 308.0,523.3 315.8,524.2 322.5,521.7 329.2,521.7 335.0,524.2 341.7,528.0 348.3,530.0 355.0,532.5 361.7,533.7 367.5,532.5 374.2,525.0 380.0,521.7 386.7,519.7 393.3,518.8 400.0,518.0 406.7,516.3 413.3,516.3 420.0,515.3 426.7,515.3 433.3,516.3 439.2,522.0 443.7,527.0 450.3,530.0 457.0,532.5 464.5,534.2 472.0,531.7 478.7,530.3 485.3,528.7 492.0,527.5 498.7,526.2 505.3,525.5 512.0,524.7 518.7,523.8 525.3,522.2 531.2,520.3 538.7,523.3 545.3,521.7 551.2,518.7 557.8,517.5 564.5,518.3 571.5,520.0 578.2,520.0 584.8,518.3 591.5,520.3 597.3,522.5 603.2,522.8 609.8,523.3 617.3,528.3 624.0,528.7 630.7,529.5 637.3,529.5 644.0,525.8 649.8,515.8 655.7,505.8 661.5,501.7 668.2,499.2 674.8,493.3 681.5,489.7 688.2,485.0 694.8,478.5 701.7,470.8 708.3,466.7 713.3,462.5" fill="none" stroke="#cccc00" stroke-width="1" stroke-linejoin="round"/>
<polyline points="67.0,367.5 73.5,399.0 80.0,430.5 82.0,440.0 84.3,451.0 86.5,464.8 90.5,476.5 95.8,488.3 100.0,497.5 106.7,501.7 113.0,506.7 119.2,502.5 125.8,505.3 132.5,501.3 138.3,504.2 145.5,496.7 151.7,504.2 158.3,511.7 165.0,517.0 171.7,521.7 178.3,527.5 185.0,525.3 193.0,527.5 201.3,526.2 206.3,527.5 210.5,531.3 216.3,533.7 224.7,533.8 231.3,534.7 238.0,536.3 249.7,536.3 256.3,536.3 263.0,537.5 267.2,532.5 273.8,522.5 281.3,515.0 288.8,511.3 295.5,509.5 302.2,517.5 308.8,525.8 315.8,534.2 321.7,534.2 328.3,532.2 335.0,529.7 341.7,529.2 348.3,527.5 355.0,531.7 360.8,533.7 366.7,533.3 374.2,520.8 380.0,515.8 386.7,508.3 393.3,503.3 400.0,500.8 406.7,510.0 413.3,516.7 420.0,523.3 426.7,529.2 433.3,534.2 441.7,537.0 443.7,538.3 455.3,538.3 462.0,536.3 467.0,535.0 472.0,526.7 478.7,522.5 485.3,519.7 492.0,519.2 498.3,516.2 504.5,525.0 512.0,527.0 518.7,528.7 525.3,525.8 532.0,523.3 538.7,521.7 545.3,515.0 551.2,508.3 557.8,508.7 564.5,513.3 570.7,515.8 577.3,523.3 584.0,528.3 591.5,530.8 597.3,531.3 603.2,528.3 609.8,522.5 617.3,527.2 624.0,527.2 630.7,528.7 637.3,529.2 644.0,525.0 649.8,506.7 654.8,485.8 660.0,475.8 666.7,470.0 674.2,457.5 680.0,465.0 684.0,475.0 688.2,485.8 693.2,484.2 697.3,479.2 700.0,476.3 706.7,477.2 710.8,466.7 713.7,457.8" fill="none" stroke="#aa44ff" stroke-width="1" stroke-linejoin="round"/>
<rect x="384" y="139" width="3" height="36" fill="#ff0000" shape-rendering="crispEdges"/>
<path d="M377.2,171.5 Q382.4,183 385.5,195 Q388.6,183 393.6,171.5 L385.5,178 Z" fill="#ff0000"/>
<text x="8.5" y="23.5" font-family="'Liberation Sans', Arial, sans-serif" font-size="19px" fill="#999999" stroke="#999999" stroke-width="0.35" textLength="64" lengthAdjust="spacingAndGlyphs">002640</text>
<text x="77.5" y="20" font-family="'Liberation Serif', 'Noto Serif CJK SC', serif" font-size="16px" fill="#000000" stroke="#000000" stroke-width="0.25">跨境通</text>
<text transform="translate(389.0,20.0) scale(0.8333,1)" font-family="'Liberation Mono', monospace" font-size="16px" fill="#008a00" stroke="#008a00" stroke-width="0" xml:space="preserve"><tspan x="0.72" font-family="'Liberation Sans', Arial, sans-serif" font-size="14.67px">3</tspan><tspan x="7.49">.</tspan><tspan x="19.92 29.52" font-family="'Liberation Sans', Arial, sans-serif" font-size="14.67px">51</tspan><tspan x="38.40 48.00"> -</tspan><tspan x="58.32" font-family="'Liberation Sans', Arial, sans-serif" font-size="14.67px">0</tspan><tspan x="65.09">.</tspan><tspan x="77.52 87.12" font-family="'Liberation Sans', Arial, sans-serif" font-size="14.67px">01</tspan><tspan x="96.00 105.60 115.20"> (-</tspan><tspan x="125.52" font-family="'Liberation Sans', Arial, sans-serif" font-size="14.67px">0</tspan><tspan x="132.29">.</tspan><tspan x="144.72 154.32" font-family="'Liberation Sans', Arial, sans-serif" font-size="14.67px">28</tspan><tspan x="163.20 172.80">%)</tspan></text>
<text transform="translate(66.0,43.0) scale(0.8333,1)" font-family="'Liberation Mono', monospace" font-size="12px" fill="#004a9c" stroke="#004a9c" stroke-width="0.15" xml:space="preserve"><tspan x="0.00 7.20">MA</tspan><tspan x="14.94" font-family="'Liberation Sans', Arial, sans-serif" font-size="11.00px">5</tspan><tspan x="21.60">:</tspan><tspan x="29.34" font-family="'Liberation Sans', Arial, sans-serif" font-size="11.00px">8</tspan><tspan x="34.42">.</tspan><tspan x="43.74 50.94" font-family="'Liberation Sans', Arial, sans-serif" font-size="11.00px">71</tspan></text>
<text transform="translate(283.5,43.0) scale(0.8333,1)" font-family="'Liberation Mono', monospace" font-size="12px" fill="#aa44ff" stroke="#aa44ff" stroke-width="0.15" xml:space="preserve"><tspan x="0.00 7.20">MA</tspan><tspan x="14.94 22.14" font-family="'Liberation Sans', Arial, sans-serif" font-size="11.00px">10</tspan><tspan x="28.80">:</tspan><tspan x="36.54" font-family="'Liberation Sans', Arial, sans-serif" font-size="11.00px">8</tspan><tspan x="41.62">.</tspan><tspan x="50.94 58.14" font-family="'Liberation Sans', Arial, sans-serif" font-size="11.00px">19</tspan></text>
<text transform="translate(502.5,43.0) scale(0.8333,1)" font-family="'Liberation Mono', monospace" font-size="12px" fill="#cccc00" stroke="#cccc00" stroke-width="0.15" xml:space="preserve"><tspan x="0.00 7.20">MA</tspan><tspan x="14.94 22.14" font-family="'Liberation Sans', Arial, sans-serif" font-size="11.00px">30</tspan><tspan x="28.80">:</tspan><tspan x="36.54" font-family="'Liberation Sans', Arial, sans-serif" font-size="11.00px">7</tspan><tspan x="41.62">.</tspan><tspan x="50.94 58.14" font-family="'Liberation Sans', Arial, sans-serif" font-size="11.00px">14</tspan></text>
<text transform="translate(66.0,370.0) scale(0.8333,1)" font-family="'Liberation Mono', monospace" font-size="12px" fill="#aa44ff" stroke="#aa44ff" stroke-width="0.15" xml:space="preserve"><tspan x="0.00 7.20 14.40 21.60 28.80">MAVOL</tspan><tspan x="36.54" font-family="'Liberation Sans', Arial, sans-serif" font-size="11.00px">5</tspan><tspan x="43.20">:</tspan><tspan x="50.94 58.14 65.34 72.54 79.74 86.94" font-family="'Liberation Sans', Arial, sans-serif" font-size="11.00px">516999</tspan></text>
<text transform="translate(393.0,370.0) scale(0.8333,1)" font-family="'Liberation Mono', monospace" font-size="12px" fill="#cccc00" stroke="#cccc00" stroke-width="0.15" xml:space="preserve"><tspan x="0.00 7.20 14.40 21.60 28.80">MAVOL</tspan><tspan x="36.54 43.74" font-family="'Liberation Sans', Arial, sans-serif" font-size="11.00px">10</tspan><tspan x="50.40">:</tspan><tspan x="58.14 65.34 72.54 79.74 86.94 94.14" font-family="'Liberation Sans', Arial, sans-serif" font-size="11.00px">492026</tspan></text>
<text transform="translate(13.0,63.0) scale(0.8333,1)" font-family="'Liberation Mono', monospace" font-size="12px" fill="#000000" stroke="#000000" stroke-width="0.15" xml:space="preserve"><tspan x="0.00">+</tspan><tspan x="7.74" font-family="'Liberation Sans', Arial, sans-serif" font-size="11.00px">0</tspan><tspan x="12.82">.</tspan><tspan x="22.14" font-family="'Liberation Sans', Arial, sans-serif" font-size="11.00px">0</tspan><tspan x="28.80">%</tspan></text>
<text transform="translate(12.0,115.0) scale(0.8333,1)" font-family="'Liberation Mono', monospace" font-size="12px" fill="#008a00" stroke="#008a00" stroke-width="0.15" xml:space="preserve"><tspan x="0.00">-</tspan><tspan x="7.74 14.94" font-family="'Liberation Sans', Arial, sans-serif" font-size="11.00px">10</tspan><tspan x="20.02">.</tspan><tspan x="29.34" font-family="'Liberation Sans', Arial, sans-serif" font-size="11.00px">0</tspan><tspan x="36.00">%</tspan></text>
<text transform="translate(12.0,167.0) scale(0.8333,1)" font-family="'Liberation Mono', monospace" font-size="12px" fill="#008a00" stroke="#008a00" stroke-width="0.15" xml:space="preserve"><tspan x="0.00">-</tspan><tspan x="7.74 14.94" font-family="'Liberation Sans', Arial, sans-serif" font-size="11.00px">20</tspan><tspan x="20.02">.</tspan><tspan x="29.34" font-family="'Liberation Sans', Arial, sans-serif" font-size="11.00px">0</tspan><tspan x="36.00">%</tspan></text>
<text transform="translate(12.0,218.0) scale(0.8333,1)" font-family="'Liberation Mono', monospace" font-size="12px" fill="#008a00" stroke="#008a00" stroke-width="0.15" xml:space="preserve"><tspan x="0.00">-</tspan><tspan x="7.74 14.94" font-family="'Liberation Sans', Arial, sans-serif" font-size="11.00px">30</tspan><tspan x="20.02">.</tspan><tspan x="29.34" font-family="'Liberation Sans', Arial, sans-serif" font-size="11.00px">0</tspan><tspan x="36.00">%</tspan></text>
<text transform="translate(12.0,270.0) scale(0.8333,1)" font-family="'Liberation Mono', monospace" font-size="12px" fill="#008a00" stroke="#008a00" stroke-width="0.15" xml:space="preserve"><tspan x="0.00">-</tspan><tspan x="7.74 14.94" font-family="'Liberation Sans', Arial, sans-serif" font-size="11.00px">40</tspan><tspan x="20.02">.</tspan><tspan x="29.34" font-family="'Liberation Sans', Arial, sans-serif" font-size="11.00px">0</tspan><tspan x="36.00">%</tspan></text>
<text transform="translate(12.0,322.0) scale(0.8333,1)" font-family="'Liberation Mono', monospace" font-size="12px" fill="#008a00" stroke="#008a00" stroke-width="0.15" xml:space="preserve"><tspan x="0.00">-</tspan><tspan x="7.74 14.94" font-family="'Liberation Sans', Arial, sans-serif" font-size="11.00px">50</tspan><tspan x="20.02">.</tspan><tspan x="29.34" font-family="'Liberation Sans', Arial, sans-serif" font-size="11.00px">0</tspan><tspan x="36.00">%</tspan></text>
<text transform="translate(722.0,63.0) scale(0.8333,1)" font-family="'Liberation Mono', monospace" font-size="12px" fill="#000000" stroke="#000000" stroke-width="0.15" xml:space="preserve"><tspan x="0.54 7.74" font-family="'Liberation Sans', Arial, sans-serif" font-size="11.00px">13</tspan><tspan x="12.82">.</tspan><tspan x="22.14 29.34" font-family="'Liberation Sans', Arial, sans-serif" font-size="11.00px">17</tspan></text>
<text transform="translate(722.0,115.0) scale(0.8333,1)" font-family="'Liberation Mono', monospace" font-size="12px" fill="#008a00" stroke="#008a00" stroke-width="0.15" xml:space="preserve"><tspan x="0.54 7.74" font-family="'Liberation Sans', Arial, sans-serif" font-size="11.00px">11</tspan><tspan x="12.82">.</tspan><tspan x="22.14 29.34" font-family="'Liberation Sans', Arial, sans-serif" font-size="11.00px">85</tspan></text>
<text transform="translate(722.0,167.0) scale(0.8333,1)" font-family="'Liberation Mono', monospace" font-size="12px" fill="#008a00" stroke="#008a00" stroke-width="0.15" xml:space="preserve"><tspan x="0.54 7.74" font-family="'Liberation Sans', Arial, sans-serif" font-size="11.00px">10</tspan><tspan x="12.82">.</tspan><tspan x="22.14 29.34" font-family="'Liberation Sans', Arial, sans-serif" font-size="11.00px">54</tspan></text>
<text transform="translate(722.0,218.0) scale(0.8333,1)" font-family="'Liberation Mono', monospace" font-size="12px" fill="#008a00" stroke="#008a00" stroke-width="0.15" xml:space="preserve"><tspan x="0.54" font-family="'Liberation Sans', Arial, sans-serif" font-size="11.00px">9</tspan><tspan x="5.62">.</tspan><tspan x="14.94 22.14" font-family="'Liberation Sans', Arial, sans-serif" font-size="11.00px">22</tspan></text>
<text transform="translate(722.0,270.0) scale(0.8333,1)" font-family="'Liberation Mono', monospace" font-size="12px" fill="#008a00" stroke="#008a00" stroke-width="0.15" xml:space="preserve"><tspan x="0.54" font-family="'Liberation Sans', Arial, sans-serif" font-size="11.00px">7</tspan><tspan x="5.62">.</tspan><tspan x="14.94 22.14" font-family="'Liberation Sans', Arial, sans-serif" font-size="11.00px">90</tspan></text>
<text transform="translate(722.0,322.0) scale(0.8333,1)" font-family="'Liberation Mono', monospace" font-size="12px" fill="#008a00" stroke="#008a00" stroke-width="0.15" xml:space="preserve"><tspan x="0.54" font-family="'Liberation Sans', Arial, sans-serif" font-size="11.00px">6</tspan><tspan x="5.62">.</tspan><tspan x="14.94 22.14" font-family="'Liberation Sans', Arial, sans-serif" font-size="11.00px">58</tspan></text>
<text transform="translate(723.5,386.0) scale(0.8333,1)" font-family="'Liberation Mono', monospace" font-size="12px" fill="#000000" stroke="#000000" stroke-width="0.15" xml:space="preserve"><tspan x="0.54 7.74 14.94 22.14 29.34 36.54" font-family="'Liberation Sans', Arial, sans-serif" font-size="11.00px">900000</tspan></text>
<text transform="translate(723.5,406.0) scale(0.8333,1)" font-family="'Liberation Mono', monospace" font-size="12px" fill="#000000" stroke="#000000" stroke-width="0.15" xml:space="preserve"><tspan x="0.54 7.74 14.94 22.14 29.34 36.54" font-family="'Liberation Sans', Arial, sans-serif" font-size="11.00px">800000</tspan></text>
<text transform="translate(723.5,426.0) scale(0.8333,1)" font-family="'Liberation Mono', monospace" font-size="12px" fill="#000000" stroke="#000000" stroke-width="0.15" xml:space="preserve"><tspan x="0.54 7.74 14.94 22.14 29.34 36.54" font-family="'Liberation Sans', Arial, sans-serif" font-size="11.00px">700000</tspan></text>
<text transform="translate(723.5,445.0) scale(0.8333,1)" font-family="'Liberation Mono', monospace" font-size="12px" fill="#000000" stroke="#000000" stroke-width="0.15" xml:space="preserve"><tspan x="0.54 7.74 14.94 22.14 29.34 36.54" font-family="'Liberation Sans', Arial, sans-serif" font-size="11.00px">600000</tspan></text>
<text transform="translate(723.5,465.0) scale(0.8333,1)" font-family="'Liberation Mono', monospace" font-size="12px" fill="#000000" stroke="#000000" stroke-width="0.15" xml:space="preserve"><tspan x="0.54 7.74 14.94 22.14 29.34 36.54" font-family="'Liberation Sans', Arial, sans-serif" font-size="11.00px">500000</tspan></text>
<text transform="translate(723.5,485.0) scale(0.8333,1)" font-family="'Liberation Mono', monospace" font-size="12px" fill="#000000" stroke="#000000" stroke-width="0.15" xml:space="preserve"><tspan x="0.54 7.74 14.94 22.14 29.34 36.54" font-family="'Liberation Sans', Arial, sans-serif" font-size="11.00px">400000</tspan></text>
<text transform="translate(723.5,504.0) scale(0.8333,1)" font-family="'Liberation Mono', monospace" font-size="12px" fill="#000000" stroke="#000000" stroke-width="0.15" xml:space="preserve"><tspan x="0.54 7.74 14.94 22.14 29.34 36.54" font-family="'Liberation Sans', Arial, sans-serif" font-size="11.00px">300000</tspan></text>
<text transform="translate(723.5,524.0) scale(0.8333,1)" font-family="'Liberation Mono', monospace" font-size="12px" fill="#000000" stroke="#000000" stroke-width="0.15" xml:space="preserve"><tspan x="0.54 7.74 14.94 22.14 29.34 36.54" font-family="'Liberation Sans', Arial, sans-serif" font-size="11.00px">200000</tspan></text>
<text transform="translate(723.5,544.0) scale(0.8333,1)" font-family="'Liberation Mono', monospace" font-size="12px" fill="#000000" stroke="#000000" stroke-width="0.15" xml:space="preserve"><tspan x="0.54 7.74 14.94 22.14 29.34 36.54" font-family="'Liberation Sans', Arial, sans-serif" font-size="11.00px">100000</tspan></text>
<text transform="translate(109.5,581.5) scale(0.8333,1)" font-family="'Liberation Mono', monospace" font-size="12px" fill="#000000" stroke="#000000" stroke-width="0.15" xml:space="preserve"><tspan x="0.54" font-family="'Liberation Sans', Arial, sans-serif" font-size="11.00px">5</tspan></text>
<text x="115.5" y="582" font-family="'Liberation Sans', 'Noto Sans CJK SC', sans-serif" font-size="12px" fill="#000000">月</text>
<text transform="translate(240.5,581.5) scale(0.8333,1)" font-family="'Liberation Mono', monospace" font-size="12px" fill="#000000" stroke="#000000" stroke-width="0.15" xml:space="preserve"><tspan x="0.54" font-family="'Liberation Sans', Arial, sans-serif" font-size="11.00px">6</tspan></text>
<text x="246.5" y="582" font-family="'Liberation Sans', 'Noto Sans CJK SC', sans-serif" font-size="12px" fill="#000000">月</text>
<text transform="translate(364.5,581.5) scale(0.8333,1)" font-family="'Liberation Mono', monospace" font-size="12px" fill="#000000" stroke="#000000" stroke-width="0.15" xml:space="preserve"><tspan x="0.54" font-family="'Liberation Sans', Arial, sans-serif" font-size="11.00px">7</tspan></text>
<text x="370.5" y="582" font-family="'Liberation Sans', 'Noto Sans CJK SC', sans-serif" font-size="12px" fill="#000000">月</text>
<text transform="translate(514.5,581.5) scale(0.8333,1)" font-family="'Liberation Mono', monospace" font-size="12px" fill="#000000" stroke="#000000" stroke-width="0.15" xml:space="preserve"><tspan x="0.54" font-family="'Liberation Sans', Arial, sans-serif" font-size="11.00px">8</tspan></text>
<text x="520.5" y="582" font-family="'Liberation Sans', 'Noto Sans CJK SC', sans-serif" font-size="12px" fill="#000000">月</text>
<text transform="translate(658.5,581.5) scale(0.8333,1)" font-family="'Liberation Mono', monospace" font-size="12px" fill="#000000" stroke="#000000" stroke-width="0.15" xml:space="preserve"><tspan x="0.54" font-family="'Liberation Sans', Arial, sans-serif" font-size="11.00px">9</tspan></text>
<text x="664.5" y="582" font-family="'Liberation Sans', 'Noto Sans CJK SC', sans-serif" font-size="12px" fill="#000000">月</text>
<text transform="translate(335.0,129.0) scale(0.8333,1)" font-family="'Liberation Mono', monospace" font-size="20px" fill="#ff0000" stroke="#ff0000" stroke-width="0" xml:space="preserve"><tspan x="0.90 12.90 24.90 36.90" font-family="'Liberation Sans', Arial, sans-serif" font-size="18.33px">2019</tspan><tspan x="48.00">-</tspan><tspan x="60.90 72.90" font-family="'Liberation Sans', Arial, sans-serif" font-size="18.33px">07</tspan><tspan x="84.00">-</tspan><tspan x="96.90 108.90" font-family="'Liberation Sans', Arial, sans-serif" font-size="18.33px">03</tspan></text>
<rect x="0.5" y="0.5" width="799" height="599" fill="none" stroke="#000000" stroke-width="1" shape-rendering="crispEdges"/>
</svg>
</body>
</html>
